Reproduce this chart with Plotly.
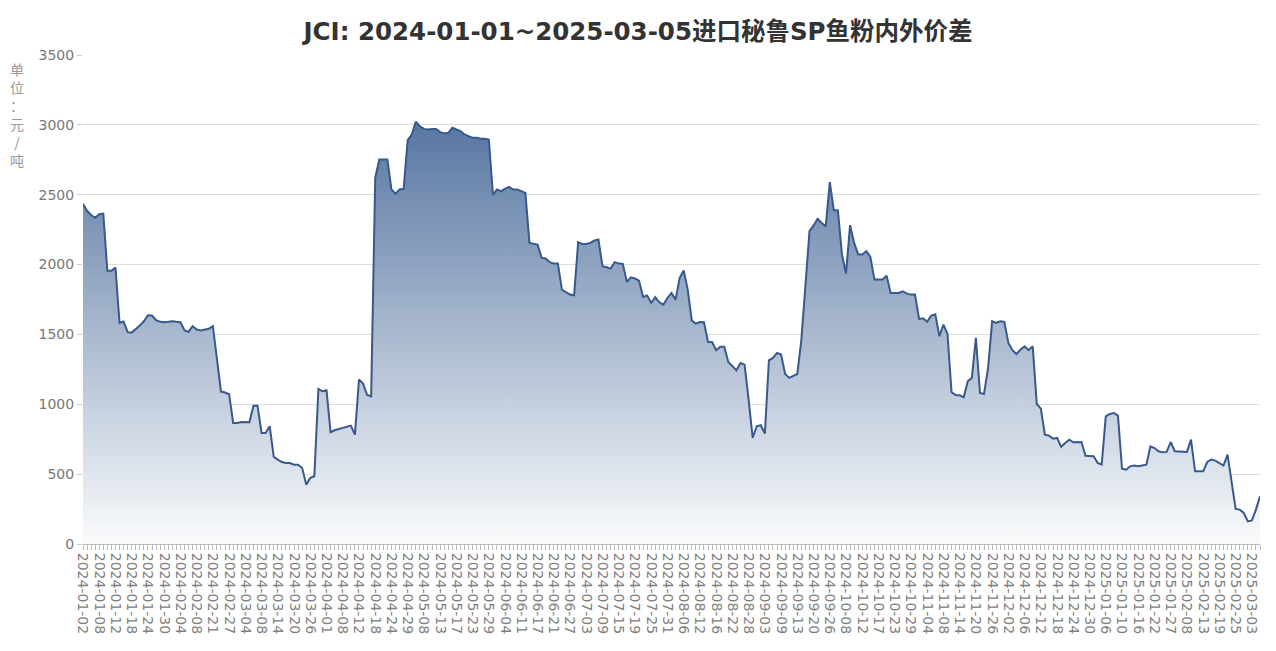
import datetime as dt
import plotly.graph_objects as go

# ---- Calendar (China working days incl. make-up days) ----
start_date = "2024-01-02"
end_date = "2025-03-05"
holidays = [
    "2024-01-01", "2024-02-09", "2024-02-12", "2024-02-13", "2024-02-14", "2024-02-15", "2024-02-16",
    "2024-04-04", "2024-04-05", "2024-05-01", "2024-05-02", "2024-05-03", "2024-06-10",
    "2024-09-16", "2024-09-17", "2024-10-01", "2024-10-02", "2024-10-03", "2024-10-04", "2024-10-07",
    "2025-01-01", "2025-01-28", "2025-01-29", "2025-01-30", "2025-01-31", "2025-02-03", "2025-02-04",
]
makeup_days = ["2024-02-04", "2024-02-18", "2024-04-07", "2024-04-28", "2024-05-11",
               "2024-09-14", "2024-09-29", "2024-10-12", "2025-01-26", "2025-02-08"]

dates = []
d = dt.date.fromisoformat(start_date)
end = dt.date.fromisoformat(end_date)
while d <= end:
    s = d.isoformat()
    if (d.weekday() < 5 and s not in holidays) or s in makeup_days:
        dates.append(s)
    d += dt.timedelta(days=1)

# ---- Values (元/吨) ----
values_q1 = [2435, 2385, 2355, 2335, 2360, 2365, 1955, 1955, 1978, 1583,
             1592, 1516, 1513, 1535, 1563, 1594, 1637, 1635, 1602, 1590,
             1587, 1590, 1594, 1590, 1587, 1530, 1518, 1559, 1535, 1528,
             1535, 1540, 1559, 1320, 1091, 1084, 1072, 866, 866, 873,
             871, 871, 990, 990, 795, 795, 843, 623, 604, 587,
             580, 580, 568, 568, 544, 425, 473, 485]
values_q2 = [1110, 1093, 1100, 800, 814, 823, 831, 843, 847, 783,
             1177, 1148, 1067, 1057, 2620, 2752, 2752, 2752, 2537, 2508,
             2537, 2542, 2890, 2931, 3022, 2990, 2971, 2967, 2971, 2971,
             2948, 2938, 2943, 2979, 2967, 2955, 2931, 2919, 2907, 2907,
             2900, 2900, 2895, 2501, 2537, 2525, 2544, 2556, 2537, 2537,
             2525, 2513, 2155, 2148, 2143, 2048, 2043, 2017, 2007, 2007]
values_q3 = [1821, 1802, 1785, 1780, 2160, 2148, 2148, 2155, 2172, 2179,
             1988, 1981, 1971, 2017, 2007, 2005, 1876, 1909, 1900, 1885,
             1768, 1778, 1725, 1766, 1730, 1713, 1761, 1797, 1749, 1904,
             1957, 1821, 1599, 1577, 1589, 1587, 1446, 1446, 1387, 1411,
             1411, 1303, 1272, 1243, 1296, 1284, 1033, 759, 843, 850,
             790, 1315, 1332, 1368, 1356, 1217, 1189, 1201, 1217]
values_q4 = [1463, 1845, 2239, 2280, 2327, 2298, 2274, 2590, 2389, 2389,
             2072, 1936, 2282, 2155, 2072, 2072, 2096, 2055, 1893, 1893,
             1893, 1921, 1797, 1797, 1797, 1809, 1792, 1785, 1785, 1611,
             1616, 1590, 1635, 1644, 1487, 1570, 1503, 1086, 1067, 1064,
             1050, 1165, 1189, 1475, 1081, 1074, 1260, 1594, 1582, 1594,
             1590, 1439, 1387, 1360, 1392, 1415, 1387, 1415]
values_q5 = [1002, 969, 783, 776, 754, 759, 695, 723, 747, 728,
             728, 730, 632, 632, 628, 580, 568, 914, 931, 938,
             919, 539, 532, 556, 561, 556, 561, 568, 699, 687,
             664, 656, 659, 730, 664, 664, 659, 659, 747, 520,
             520, 520, 587, 604, 597, 580, 561, 640, 450, 251,
             246, 222, 162, 169, 246, 341]
values = values_q1 + values_q2 + values_q3 + values_q4 + values_q5

n = min(len(dates), len(values))
dates = dates[:n]
values = values[:n]

tick_labels = [dates[i] if i % 4 == 0 else "" for i in range(n)]

title_text = "JCI: 2024-01-01~2025-03-05进口秘鲁SP鱼粉内外价差"
unit_text = "单<br>位<br>：<br>元<br>/<br>吨"

fig = go.Figure()
fig.add_trace(go.Scatter(
    x=dates, y=values, mode="lines",
    line=dict(color="#38598b", width=2),
    fill="tozeroy",
    fillgradient=dict(type="vertical",
                      colorscale=[[0, "rgb(250,251,252)"], [1, "rgb(88,118,162)"]],
                      start=0, stop=max(values)),
    hoverinfo="x+y",
))

fig.update_layout(
    width=1276, height=651,
    margin=dict(l=83, r=16, t=55, b=107),
    paper_bgcolor="white", plot_bgcolor="white",
    showlegend=False,
    title=dict(text=title_text, x=0.5, xanchor="center", y=0.951, yanchor="middle",
               font=dict(family="DejaVu Sans, Noto Sans CJK SC", size=24.5, color="#333333",
                         weight="bold")),
    font=dict(family="Noto Sans CJK SC"),
)
fig.update_xaxes(
    type="category", range=[0, n - 1],
    tickmode="array", tickvals=dates, ticktext=tick_labels,
    tickangle=90, ticks="outside", ticklen=5, tickcolor="#bbbbbb", tickwidth=1,
    tickfont=dict(family="DejaVu Sans", size=14, color="#808080"),
    showline=True, linecolor="#bbbbbb", linewidth=1,
    showgrid=False, zeroline=False,
)
fig.update_yaxes(
    range=[0, 3500], dtick=500, tick0=0,
    ticks="outside", ticklen=5, tickcolor="#cccccc",
    tickfont=dict(family="DejaVu Sans", size=14, color="#777777"),
    showgrid=True, gridcolor="#dcdcdc", gridwidth=1,
    zeroline=False, showline=False,
)
fig.add_annotation(
    text=unit_text, xref="paper", yref="paper", x=-0.056, y=0.995,
    xanchor="center", yanchor="top", showarrow=False, align="center",
    font=dict(family="Noto Sans CJK SC", size=14, color="#999999"),
)

fig.write_html("out.html", config={"displayModeBar": False},
               post_script="document.body.style.margin='0px';document.body.style.overflow='hidden';")
